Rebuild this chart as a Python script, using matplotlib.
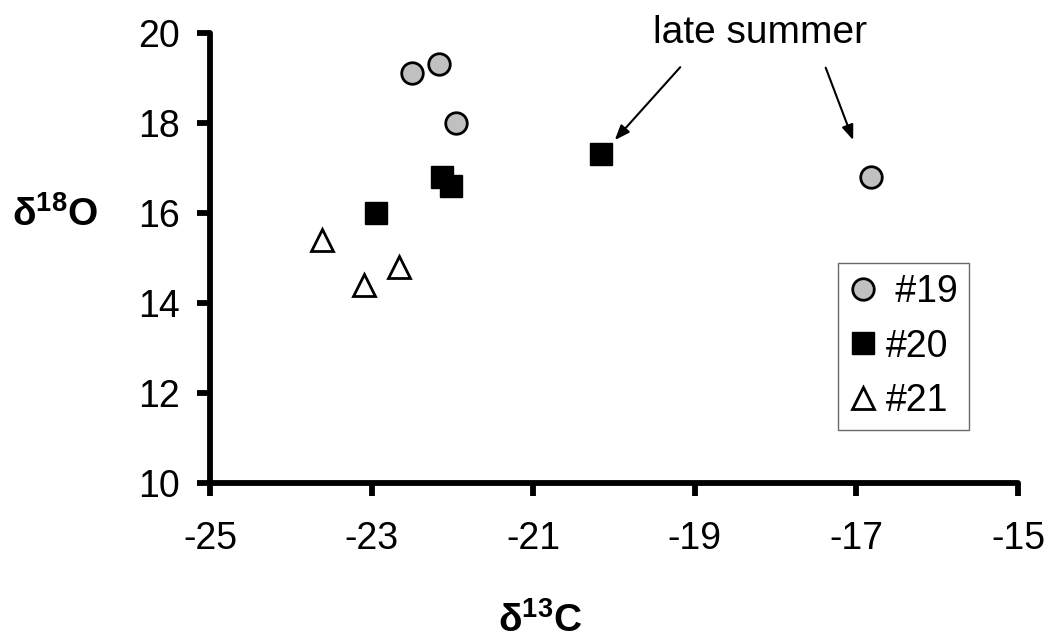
import matplotlib
matplotlib.use("Agg")
import matplotlib.pyplot as plt

plt.rcParams['font.family'] = ['Liberation Sans', 'DejaVu Sans']
plt.rcParams['mathtext.fontset'] = 'custom'
plt.rcParams['mathtext.rm'] = 'Liberation Sans'
plt.rcParams['mathtext.bf'] = 'Liberation Sans:bold'

# Stable isotope values per sample
d13c_19 = [-22.50, -22.17, -21.96, -16.82]
d18o_19 = [19.10, 19.30, 18.00, 16.80]

d13c_20 = [-22.13, -22.02, -22.95, -20.16]
d18o_20 = [16.80, 16.60, 16.00, 17.30]

d13c_21 = [-23.62, -23.09, -22.66]
d18o_21 = [15.40, 14.40, 14.80]

x_ticks = [-25, -23, -21, -19, -17, -15]
y_ticks = [10, 12, 14, 16, 18, 20]

fig = plt.figure(figsize=(10.5, 6.42), dpi=100)
ax = fig.add_axes([0.2, 0.2477, 0.7695, 0.7009])

ms = 15.5
ax.plot(d13c_19, d18o_19, 'o', ms=ms, mfc='#c0c0c0', mec='black', mew=2.0,
        label=' #19', zorder=3)
ax.plot(d13c_20, d18o_20, 's', ms=ms, mfc='black', mec='black', mew=1.0,
        label='#20', zorder=3)
ax.plot(d13c_21, d18o_21, '^', ms=ms, mfc='white', mec='black', mew=2.0,
        label='#21', zorder=3)

ax.set_xlim(-25, -15)
ax.set_ylim(10, 20)
ax.set_xticks(x_ticks)
ax.set_yticks(y_ticks)
ax.set_xticklabels([str(v) for v in x_ticks])
ax.set_yticklabels([str(v) for v in y_ticks])

for side in ('top', 'right'):
    ax.spines[side].set_visible(False)
for side in ('left', 'bottom'):
    ax.spines[side].set_linewidth(4.2)
    ax.spines[side].set_capstyle('round')
ax.tick_params(axis='both', direction='out', length=9.5, width=4.2,
               labelsize=27)
ax.tick_params(axis='y', pad=12)
ax.tick_params(axis='x', pad=18)

ax.set_xlabel(r'$\mathbf{δ^{13}C}$', fontsize=28, va='center', ha='center')
ax.xaxis.set_label_coords(0.408, -0.306)
ax.set_ylabel(r'$\mathbf{δ^{18}O}$', fontsize=28, rotation=0, va='center',
              ha='center')
ax.yaxis.set_label_coords(-0.192, 0.596)

ax.text(-18.19, 20.0, 'late summer', fontsize=28, ha='center', va='center')
arrow = dict(arrowstyle='-|>,head_length=0.9,head_width=0.35', color='black',
             lw=1.5, shrinkA=0, shrinkB=0)
ax.annotate('', xy=(-19.99, 17.62), xytext=(-19.18, 19.24), arrowprops=arrow,
            annotation_clip=False)
ax.annotate('', xy=(-17.04, 17.62), xytext=(-17.38, 19.23), arrowprops=arrow,
            annotation_clip=False)

leg = ax.legend(loc='upper left', bbox_to_anchor=(0.777, 0.489), fontsize=27,
                frameon=True, fancybox=False, edgecolor='#444444',
                handlelength=0.75, handletextpad=0.22, labelspacing=0.49,
                borderpad=0.3, borderaxespad=0, numpoints=1)
leg.get_frame().set_linewidth(1.0)

fig.savefig('out.png', dpi=100, facecolor='white')
